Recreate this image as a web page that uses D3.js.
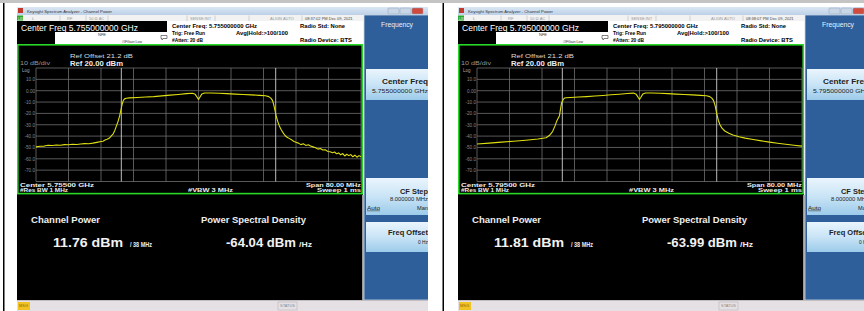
<!DOCTYPE html>
<html>
<head>
<meta charset="utf-8">
<script src="https://cdn.jsdelivr.net/npm/d3@7"></script>
<style>
body { margin: 0; background: #fff; }
svg { display: block; }
text { font-family: "Liberation Sans", Arial, sans-serif; }
</style>
</head>
<body>
<svg width="864" height="311"></svg>
<script>
"use strict";

// sweep: 80 MHz span around the center, offsets in MHz
var spanMHz = 80;
var chanBW = 38;
var freqTicks = [-40, -32, -24, -16, -8, 0, 8, 16, 24, 32, 40];
var levelTicks = [20, 10, 0, -10, -20, -30, -40, -50, -60, -70, -80];
var levelLabels = ["", "10.0", "0.00", "-10.0", "-20.0", "-30.0", "-40.0", "-50.0", "-60.0", "-70.0", ""];

// trace 1 (5.755 GHz)
var leftFreq = [-40, -39, -38, -37, -36, -35, -34, -33, -32, -31, -30, -29, -28, -27, -26, -25, -24, -23.5, -23, -22.5,
    -22, -21.5, -21, -20.6, -20.2, -19.8, -19.4, -19.1, -18.8, -18.5, -18.2, -17.8, -17, -15, -13, -11, -9, -7, -5, -3,
    -1.5, -0.8, -0.3, 0, 0.3, 0.8, 1.5, 3, 5, 7, 9, 11, 13, 15, 16.5, 17.3, 17.8, 18.2, 18.5, 18.8,
    19.1, 19.5, 19.9, 20.3, 20.8, 21.3, 21.8, 22.3, 23, 23.5, 24, 24.6, 25.2, 25.8, 26.4, 27, 27.6, 28.2, 28.8, 29.4,
    30, 30.6, 31.2, 31.8, 32.4, 33, 33.5, 34, 34.5, 35, 35.5, 36, 36.5, 37, 37.5, 38, 38.5, 39, 39.5, 40];
var leftPower = [-49.5, -49, -48.8, -48, -48.3, -47.8, -48, -47.5, -47.6, -47.2, -47.4, -47, -46.6, -46.8, -46.2, -45.5, -44.8, -44.6, -43.5, -42.8,
    -42, -40, -38, -35, -31, -27, -22, -17, -12, -8.5, -7.2, -6.6, -6.3, -6, -5.6, -5.2, -4.6, -3.9, -3.3, -2.6,
    -2.2, -3.2, -6, -7.8, -6, -3, -2, -2, -2.3, -2.6, -3, -3.3, -3.7, -4.1, -4.5, -5.2, -6.5, -8.5, -12, -17,
    -22, -27, -31, -34, -37, -39.5, -41, -42, -43.5, -44.8, -45.5, -46.2, -47.5, -46.8, -48.2, -47.6, -48.8, -49.5, -50.2, -51.5,
    -51, -52.3, -52, -53.5, -53.8, -54.6, -54, -55.6, -54.8, -56.5, -55.4, -57.5, -56, -57.2, -56.3, -58.2, -56.8, -58.6, -57.2, -58.2];

// trace 2 (5.795 GHz)
var rightFreq = [-40, -37, -34, -31, -28, -25, -23, -22.2, -21.4, -20.8, -20.4, -19.7, -19.2, -18.8, -18.5, -18, -17, -15, -13, -11,
    -9, -7, -5, -3, -1.5, -0.8, -0.3, 0, 0.3, 0.8, 1.5, 3, 5, 7, 9, 11, 13, 15, 16.5, 17.3,
    17.8, 18.2, 18.6, 19, 19.4, 19.8, 20.3, 21, 22, 23, 24.5, 26, 28, 30, 32, 34, 36, 38, 40];
var rightPower = [-47, -46.2, -45.3, -44.5, -43.6, -42.6, -41.5, -39.5, -36, -31, -27, -22, -11, -8, -6.5, -6.2, -6, -5.6, -5.2, -4.7,
    -4.2, -3.6, -3.1, -2.5, -2.1, -3.2, -6, -7.6, -6, -3, -2, -2, -2.3, -2.6, -3, -3.3, -3.7, -4.1, -4.5, -5.2,
    -6.5, -8.5, -13, -20, -26, -30, -33, -35.5, -37.5, -39, -40.5, -41.8, -43, -44.2, -45.3, -46.3, -47.2, -48, -48.8];

var panels = [
    { ox: 0, freqTitle: "Center Freq 5.755000000 GHz", cf: "Center Freq: 5.755000000 GHz", time: "08:37:02 PM Dec 09, 2021",
      center: "Center 5.75500 GHz", cfKey: "5.755000000 GHz", chPow: "11.76 dBm", psd: "-64.04 dBm",
      freq: leftFreq, power: leftPower },
    { ox: 441, freqTitle: "Center Freq 5.795000000 GHz", cf: "Center Freq: 5.795000000 GHz", time: "08:38:07 PM Dec 09, 2021",
      center: "Center 5.79500 GHz", cfKey: "5.795000000 GHz", chPow: "11.81 dBm", psd: "-63.99 dBm",
      freq: rightFreq, power: rightPower }
];

var svg = d3.select("svg");
var defs = svg.append("defs");

var gBtn = defs.append("linearGradient").attr("id", "btn").attr("x1", 0).attr("y1", 0).attr("x2", 0).attr("y2", 1);
gBtn.append("stop").attr("offset", 0).attr("stop-color", "#eaf5fd");
gBtn.append("stop").attr("offset", 0.5).attr("stop-color", "#c9e4f6");
gBtn.append("stop").attr("offset", 1).attr("stop-color", "#9ccbea");

var gTitle = defs.append("linearGradient").attr("id", "ttl").attr("x1", 0).attr("y1", 0).attr("x2", 0).attr("y2", 1);
gTitle.append("stop").attr("offset", 0).attr("stop-color", "#dbe7f4");
gTitle.append("stop").attr("offset", 1).attr("stop-color", "#bcd0e8");

defs.append("clipPath").attr("id", "scr").append("rect")
    .attr("x", 17).attr("y", 0).attr("width", 411).attr("height", 311);

// outer page: grey top band and table rules
svg.append("rect").attr("x", 0).attr("y", 0).attr("width", 864).attr("height", 3).attr("fill", "#c4c4c4");
svg.append("rect").attr("x", 3).attr("y", 3).attr("width", 1.5).attr("height", 308).attr("fill", "#000");
svg.append("rect").attr("x", 442.5).attr("y", 3).attr("width", 1.5).attr("height", 308).attr("fill", "#000");

function txt(g, x, y, s, o) {
    o = o || {};
    var t = g.append("text")
        .attr("x", x).attr("y", y)
        .attr("font-size", o.size || 6)
        .attr("font-weight", o.bold ? "bold" : "normal")
        .attr("fill", o.fill || "#000")
        .attr("text-anchor", o.anchor || "start")
        .text(s);
    if (o.len) {
        t.attr("textLength", o.len).attr("lengthAdjust", "spacingAndGlyphs");
    }
    return t;
}

var x = d3.scaleLinear().domain([-spanMHz / 2, spanMHz / 2]).range([36, 361]);
var y = d3.scaleLinear().domain([-80, 20]).range([181.5, 68]);

function drawScreen(p) {
    var g = svg.append("g")
        .attr("transform", "translate(" + p.ox + ",0)")
        .append("g")
        .attr("clip-path", "url(#scr)");

    // window title bar
    g.append("rect").attr("x", 17).attr("y", 7).attr("width", 411).attr("height", 8).attr("fill", "url(#ttl)");
    g.append("rect").attr("x", 18).attr("y", 8).attr("width", 5).attr("height", 5).attr("fill", "#c0392b");
    txt(g, 27, 13, "Keysight Spectrum Analyzer - Channel Power", { size: 4.3, fill: "#333", len: 85 });
    [[388, "#c9d6e6"], [400, "#c9d6e6"], [412, "#d24a3c"]].forEach(function (b) {
        g.append("rect").attr("x", b[0]).attr("y", 8).attr("width", 11).attr("height", 6)
            .attr("rx", 1).attr("fill", b[1]).attr("stroke", "#8fa3bb").attr("stroke-width", 0.5);
    });

    // status row
    g.append("rect").attr("x", 17).attr("y", 15).attr("width", 346).attr("height", 6).attr("fill", "#f2f2f2");
    g.append("rect").attr("x", 17).attr("y", 15.5).attr("width", 6).attr("height", 5).attr("fill", "#2aa62a");
    txt(g, 18, 19.8, "LXI", { size: 3.5, fill: "#fff", len: 4.5 });
    [[32, "L"], [67, "RF"], [89, "50 Ω  AC"], [190, "SENSE:INT"], [270, "ALIGN AUTO"], [305, ""]]
        .forEach(function (c, i) {
            var s = (i === 5) ? p.time : c[1];
            txt(g, c[0], 20, s, { size: 4, fill: i === 5 ? "#444" : "#999" });
        });
    [60, 86, 108, 187, 215, 249, 302].forEach(function (d) {
        g.append("line").attr("x1", d).attr("x2", d).attr("y1", 15.5).attr("y2", 21)
            .attr("stroke", "#bbb").attr("stroke-width", 0.6);
    });

    // header
    g.append("rect").attr("x", 17).attr("y", 21).attr("width", 346).attr("height", 23).attr("fill", "#fff");
    g.append("rect").attr("x", 17).attr("y", 21).attr("width", 150).attr("height", 11).attr("fill", "#000");
    g.append("rect").attr("x", 17).attr("y", 32).attr("width", 38).attr("height", 12).attr("fill", "#000");
    txt(g, 21, 30.5, p.freqTitle, { size: 9.5, fill: "#fff", len: 117 });
    txt(g, 102, 35.5, "NFE", { size: 4, fill: "#333", anchor: "middle" });
    txt(g, 122, 43, "#IFGain:Low", { size: 4, fill: "#333", len: 20 });
    g.append("path").attr("d", "M161,35.5 h6 v3 h-4 l-1,1.5 v-1.5 h-1 z").attr("fill", "none").attr("stroke", "#333").attr("stroke-width", 0.6);
    txt(g, 172, 28, p.cf, { size: 5.2, bold: true, len: 85 });
    txt(g, 172, 35, "Trig: Free Run", { size: 5.2, bold: true, len: 33 });
    txt(g, 236, 35, "Avg|Hold:>100/100", { size: 5.2, bold: true, len: 52 });
    txt(g, 172, 42, "#Atten: 20 dB", { size: 5.2, bold: true, len: 31 });
    txt(g, 300, 28, "Radio Std: None", { size: 5.2, bold: true, len: 45 });
    txt(g, 300, 42, "Radio Device: BTS", { size: 5.2, bold: true, len: 52 });

    // measurement results (behind the plot frame)
    g.append("rect").attr("x", 17).attr("y", 44).attr("width", 346).attr("height", 256).attr("fill", "#000");
    g.append("rect").attr("x", 362).attr("y", 195).attr("width", 2).attr("height", 105).attr("fill", "#9a9a9a");

    // plot window
    g.append("rect").attr("x", 17.8).attr("y", 44.8).attr("width", 344.4).attr("height", 148.8)
        .attr("fill", "none").attr("stroke", "#27d827").attr("stroke-width", 1.6);

    txt(g, 70, 57.5, "Ref Offset 21.2 dB", { size: 6.2, fill: "#ddd", len: 63 });
    txt(g, 20, 65, "10 dB/div", { size: 5.5, fill: "#999", len: 30 });
    txt(g, 70, 65.5, "Ref 20.00 dBm", { size: 7.5, bold: true, fill: "#eee", len: 53 });
    txt(g, 22, 72, "Log", { size: 4.5, fill: "#aaa" });

    var grid = g.append("g");
    grid.selectAll("line.h").data(levelTicks).enter().append("line")
        .attr("x1", x.range()[0]).attr("x2", x.range()[1])
        .attr("y1", function (d) { return y(d); }).attr("y2", function (d) { return y(d); })
        .attr("stroke", "#6e6e6e").attr("stroke-width", 0.8);
    grid.selectAll("line.v").data(freqTicks).enter().append("line")
        .attr("y1", y.range()[1]).attr("y2", y.range()[0])
        .attr("x1", function (d) { return x(d); }).attr("x2", function (d) { return x(d); })
        .attr("stroke", "#6e6e6e").attr("stroke-width", 0.8);
    grid.selectAll("line.ch").data([-chanBW / 2, chanBW / 2]).enter().append("line")
        .attr("y1", y.range()[1]).attr("y2", y.range()[0])
        .attr("x1", function (d) { return x(d); }).attr("x2", function (d) { return x(d); })
        .attr("stroke", "#d0d0d0").attr("stroke-width", 0.9);

    grid.selectAll("text").data(levelTicks).enter().append("text")
        .attr("x", 35).attr("y", function (d) { return y(d) + 1.8; })
        .attr("text-anchor", "end").attr("font-size", 4.6).attr("fill", "#8a8a8a")
        .text(function (d, i) { return levelLabels[i]; });

    var pts = p.freq.map(function (f, i) { return [f, p.power[i]]; });
    g.append("path")
        .datum(pts)
        .attr("d", d3.line().x(function (d) { return x(d[0]); }).y(function (d) { return y(d[1]); }))
        .attr("fill", "none").attr("stroke", "#dede10").attr("stroke-width", 1.1)
        .attr("stroke-linejoin", "round");

    txt(g, 20, 187.2, p.center, { size: 5.6, bold: true, fill: "#eee", len: 74 });
    txt(g, 20, 191.8, "#Res BW  1 MHz", { size: 5.6, bold: true, fill: "#eee", len: 48 });
    txt(g, 188, 191.8, "#VBW  3 MHz", { size: 5.6, bold: true, fill: "#eee", len: 45 });
    txt(g, 361, 187.2, "Span 80.00 MHz", { size: 5.6, bold: true, fill: "#eee", anchor: "end", len: 55 });
    txt(g, 361, 191.8, "Sweep  1 ms", { size: 5.6, bold: true, fill: "#eee", anchor: "end", len: 44 });

    txt(g, 31, 222.5, "Channel Power", { size: 9, bold: true, fill: "#eee", len: 69 });
    txt(g, 201, 222.5, "Power Spectral Density", { size: 9, bold: true, fill: "#eee", len: 105 });
    txt(g, 53, 247, p.chPow, { size: 12, bold: true, fill: "#f2f2f2", len: 70 });
    txt(g, 130, 247, "/ 38 MHz", { size: 6.5, bold: true, fill: "#eee", len: 22 });
    txt(g, 226, 247, p.psd, { size: 12, bold: true, fill: "#f2f2f2", len: 70 });
    txt(g, 299, 247, "/Hz", { size: 6.5, bold: true, fill: "#eee", len: 13 });

    // softkey panel
    g.append("rect").attr("x", 364).attr("y", 15).attr("width", 66).attr("height", 285).attr("fill", "#2e5f9a");
    g.append("rect").attr("x", 364).attr("y", 15).attr("width", 66).attr("height", 285)
        .attr("fill", "none").attr("stroke", "#c8d6e6").attr("stroke-width", 0.8);
    txt(g, 397, 26.5, "Frequency", { size: 6.5, fill: "#e8f0fa", anchor: "middle", len: 32 });

    [[69, 31], [178, 37], [222, 30]].forEach(function (b) {
        g.append("rect").attr("x", 366).attr("y", b[0]).attr("width", 64).attr("height", b[1]).attr("fill", "url(#btn)");
    });
    txt(g, 428, 83.5, "Center Freq", { size: 7, bold: true, fill: "#222", anchor: "end", len: 46 });
    txt(g, 428, 92.5, p.cfKey, { size: 5, fill: "#222", anchor: "end", len: 56 });
    txt(g, 428, 194, "CF Step", { size: 7, bold: true, fill: "#222", anchor: "end", len: 28 });
    txt(g, 428, 200.5, "8.000000 MHz", { size: 4.8, fill: "#222", anchor: "end", len: 38 });
    txt(g, 367, 209.5, "Auto", { size: 5, fill: "#222", len: 13 });
    g.append("line").attr("x1", 367).attr("x2", 380).attr("y1", 210.8).attr("y2", 210.8).attr("stroke", "#222").attr("stroke-width", 0.5);
    txt(g, 428, 209.5, "Man", { size: 5, fill: "#222", anchor: "end", len: 11 });
    txt(g, 428, 235, "Freq Offset", { size: 7, bold: true, fill: "#222", anchor: "end", len: 40 });
    txt(g, 428, 244, "0 Hz", { size: 4.8, fill: "#222", anchor: "end", len: 10 });

    // bottom status bar
    g.append("rect").attr("x", 17).attr("y", 300).attr("width", 411).attr("height", 11).attr("fill", "#e4e0e4");
    g.append("line").attr("x1", 17).attr("x2", 428).attr("y1", 300.5).attr("y2", 300.5).attr("stroke", "#b8b4b8").attr("stroke-width", 0.8);
    g.append("rect").attr("x", 18).attr("y", 302).attr("width", 12).attr("height", 8).attr("fill", "#f2c225");
    txt(g, 19, 307, "MSG", { size: 3.5, fill: "#8a6a00", len: 9 });
    g.append("rect").attr("x", 278).attr("y", 302).attr("width", 19).attr("height", 8)
        .attr("fill", "none").attr("stroke", "#b8b4b8").attr("stroke-width", 0.6);
    txt(g, 280, 307, "STATUS", { size: 3.5, fill: "#888", len: 15 });
}

panels.forEach(drawScreen);
</script>
</body>
</html>
